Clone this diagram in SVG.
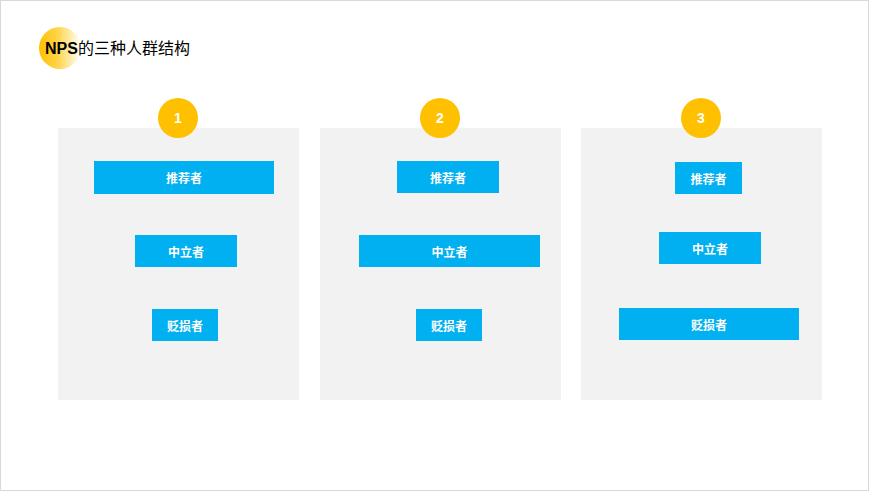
<svg xmlns="http://www.w3.org/2000/svg" width="869" height="491" viewBox="0 0 869 491">
<defs>
<linearGradient id="tg" x1="0" y1="0" x2="1" y2="0">
<stop offset="0" stop-color="#FFC000"/>
<stop offset="0.45" stop-color="#FFD54A"/>
<stop offset="1" stop-color="#FFFFFF"/>
</linearGradient>
<style>
.panel{fill:#F2F2F2}
.box{fill:#00B0F0}
.bt{fill:#FFFFFF;font-family:"Noto Sans CJK SC","Noto Sans",sans-serif;font-size:12px;font-weight:bold;text-anchor:middle;dominant-baseline:central}
.num{fill:#FFC000}
.nt{fill:#FFFFFF;font-family:"Liberation Sans",Arial,sans-serif;font-size:14px;font-weight:bold;text-anchor:middle;dominant-baseline:central}
</style>
</defs>
<rect x="0" y="0" width="869" height="491" fill="#FFFFFF"/>
<rect x="0.5" y="0.5" width="868" height="490" fill="none" stroke="#D9D9D9" stroke-width="1"/>
<g id="title">
<circle cx="60" cy="48" r="21" fill="url(#tg)"/>
<text x="45" y="54" font-family="'Noto Sans CJK SC','Noto Sans',sans-serif" font-size="16" fill="#000000"><tspan font-weight="bold" font-family="'Liberation Sans',Arial,sans-serif">NPS</tspan>的三种人群结构</text>
</g>
<g id="panel1">
<rect class="panel" x="58" y="128" width="241" height="272"/>
<circle class="num" cx="178" cy="118" r="20"/>
<text class="nt" x="178" y="118">1</text>
<rect class="box" x="94" y="161" width="180" height="33"/>
<text class="bt" x="184" y="177.5">推荐者</text>
<rect class="box" x="135" y="235" width="102" height="32"/>
<text class="bt" x="186" y="251">中立者</text>
<rect class="box" x="152" y="309" width="66" height="32"/>
<text class="bt" x="185" y="325">贬损者</text>
</g>
<g id="panel2">
<rect class="panel" x="320" y="128" width="241" height="272"/>
<circle class="num" cx="440" cy="118" r="20"/>
<text class="nt" x="440" y="118">2</text>
<rect class="box" x="397" y="161" width="102" height="32"/>
<text class="bt" x="448" y="177">推荐者</text>
<rect class="box" x="359" y="235" width="181" height="32"/>
<text class="bt" x="449.5" y="251">中立者</text>
<rect class="box" x="416" y="309" width="66" height="32"/>
<text class="bt" x="449" y="325">贬损者</text>
</g>
<g id="panel3">
<rect class="panel" x="581" y="128" width="241" height="272"/>
<circle class="num" cx="701" cy="118" r="20"/>
<text class="nt" x="701" y="118">3</text>
<rect class="box" x="675" y="162" width="67" height="32"/>
<text class="bt" x="708.5" y="178">推荐者</text>
<rect class="box" x="659" y="232" width="102" height="32"/>
<text class="bt" x="710" y="248">中立者</text>
<rect class="box" x="619" y="308" width="180" height="32"/>
<text class="bt" x="709" y="324">贬损者</text>
</g>
<g id="connectors"></g>
</svg>
